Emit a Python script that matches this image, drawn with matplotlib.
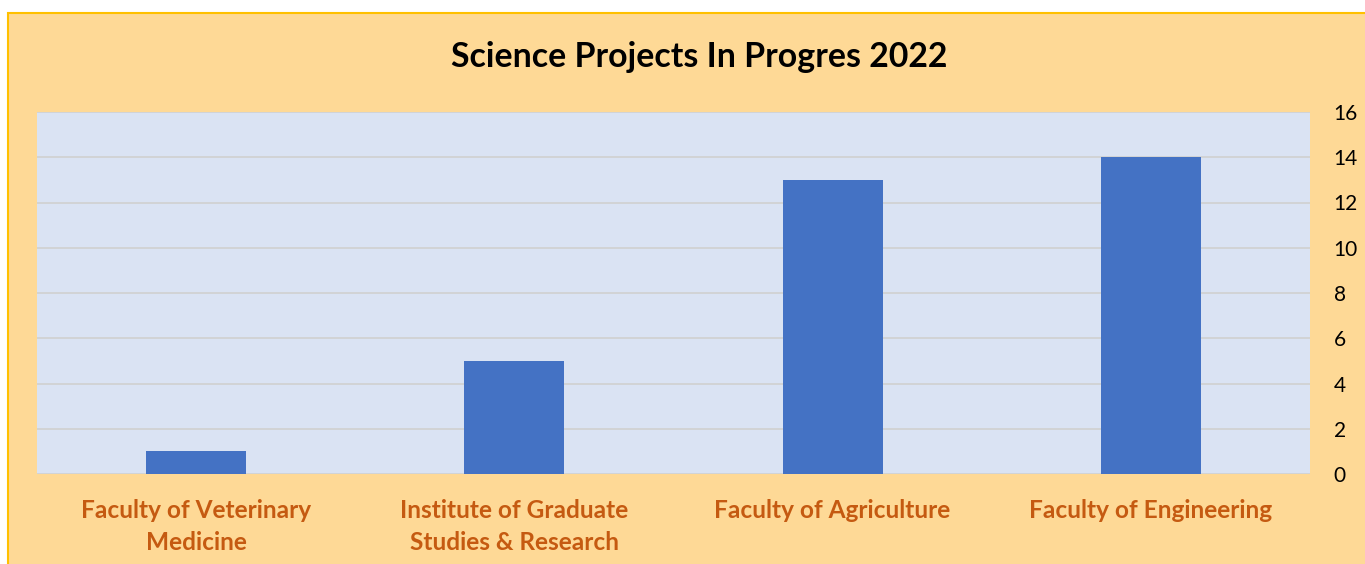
import matplotlib
matplotlib.use('Agg')
import matplotlib.pyplot as plt
from matplotlib.patches import Rectangle

# data
categories = ['Faculty of Veterinary\nMedicine', 'Institute of Graduate\nStudies & Research',
              'Faculty of Agriculture', 'Faculty of Engineering']
projects = [1, 5, 13, 14]
yticks = [0, 2, 4, 6, 8, 10, 12, 14, 16]
title = 'Science Projects In Progres 2022'

plt.rcParams['font.family'] = ['Lato', 'DejaVu Sans']

W, H = 1365, 564
fig = plt.figure(figsize=(W / 100, H / 100), dpi=100)
fig.patch.set_facecolor('white')

# chart frame (orange box with gold border)
fig.patches.append(Rectangle((8 / W, -0.05), 1.2, 1 - 13 / H + 0.05, transform=fig.transFigure,
                             facecolor='#FED996', edgecolor='#FFC000', linewidth=1.5, zorder=-10))

ax = fig.add_axes([37 / W, 1 - 474 / H, (1310 - 37) / W, (474 - 112) / H])
ax.set_zorder(5)
ax.set_facecolor('#DAE3F3')

x = list(range(len(categories)))
ax.bar(x, projects, width=0.315, color='#4472C4', zorder=3)

ax.set_xlim(-0.5, len(categories) - 0.5)
ax.set_ylim(0, 16)
ax.set_yticks(yticks)
ax.yaxis.tick_right()
ax.tick_params(axis='y', length=0, pad=17, labelsize=15, labelcolor='black')
ax.set_xticks(x)
ax.set_xticklabels(categories, fontsize=17.6, fontweight='bold', color='#C55A11', linespacing=1.5)
ax.tick_params(axis='x', length=0, pad=18)
ax.grid(axis='y', color='#D0D0D0', linewidth=1.2, zorder=1)
for s in ax.spines.values():
    s.set_visible(False)

fig.text(699 / W, 1 - 57 / H, title, ha='center', va='center', fontsize=24.4, fontweight='bold')

plt.savefig('out.png', dpi=100)
